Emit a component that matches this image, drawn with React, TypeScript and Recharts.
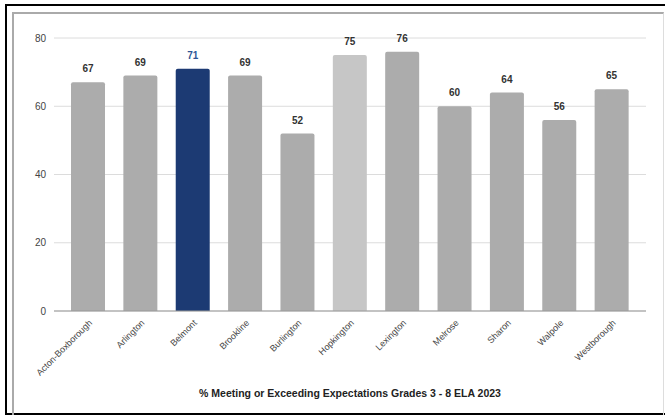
import { BarChart, Bar, XAxis, YAxis, CartesianGrid, Cell, LabelList } from 'recharts'

const districts = [
  'Acton-Boxborough',
  'Arlington',
  'Belmont',
  'Brookline',
  'Burlington',
  'Hopkington',
  'Lexington',
  'Melrose',
  'Sharon',
  'Walpole',
  'Westborough',
]
const pctMeeting = [67, 69, 71, 69, 52, 75, 76, 60, 64, 56, 65]
const yTicks = [0, 20, 40, 60, 80]
const title = '% Meeting or Exceeding Expectations Grades 3 - 8 ELA 2023'

const FONT = "Arial, 'Liberation Sans', sans-serif"

function barColor(name: string) {
  if (name === 'Belmont') return '#1c3a73'
  if (name === 'Hopkington') return '#c6c6c6'
  return '#acacac'
}

export default function App() {
  const data = districts.map((d, i) => ({ district: d, value: pctMeeting[i] }))

  const renderValue = (props: any) => {
    const { x, y, width, value, index } = props
    const isBelmont = districts[index] === 'Belmont'
    return (
      <text
        x={x + width / 2}
        y={y - 10}
        textAnchor="middle"
        fontSize={10}
        fontWeight="bold"
        fontFamily={FONT}
        fill={isBelmont ? '#2f5597' : '#333'}
      >
        {value}
      </text>
    )
  }

  return (
    <div style={{ position: 'absolute', left: 0, top: 0, width: 665, height: 415, background: '#fff', overflow: 'hidden' }}>
      <div
        style={{
          position: 'absolute',
          left: 5,
          top: 4,
          width: 670,
          height: 411,
          boxSizing: 'border-box',
          borderTop: '2px solid #000',
          borderLeft: '2px solid #000',
          borderBottom: '2px solid #000',
        }}
      />
      <div
        style={{
          position: 'absolute',
          left: 12,
          top: 12,
          width: 652,
          height: 420,
          boxSizing: 'border-box',
          borderTop: '2px solid #aaa',
          borderLeft: '2px solid #aaa',
          borderRight: '1px solid #ddd',
        }}
      />
      <div style={{ position: 'absolute', left: 0, top: 0 }}>
        <BarChart
          width={665}
          height={415}
          data={data}
          margin={{ top: 38, right: 19, bottom: 0, left: 24 }}
          barSize={34}
        >
          <CartesianGrid vertical={false} stroke="#dcdcdc" />
          <XAxis
            dataKey="district"
            interval={0}
            height={104}
            padding={{ left: 8, right: 8 }}
            tickLine={false}
            axisLine={{ stroke: '#999' }}
            angle={-45}
            textAnchor="end"
            tick={{ fontSize: 9, fill: '#444', fontFamily: FONT }}
            label={{
              value: title,
              position: 'insideBottom',
              offset: 18,
              fontSize: 10.5,
              fontWeight: 'bold',
              fill: '#222',
              fontFamily: FONT,
            }}
          />
          <YAxis
            width={30}
            domain={[0, 80]}
            ticks={yTicks}
            tickLine={false}
            axisLine={false}
            tick={{ fontSize: 10, fill: '#444', fontFamily: FONT }}
          />
          <Bar dataKey="value" radius={[2, 2, 0, 0]} isAnimationActive={false}>
            {data.map((d) => (
              <Cell key={d.district} fill={barColor(d.district)} />
            ))}
            <LabelList dataKey="value" content={renderValue} />
          </Bar>
        </BarChart>
      </div>
    </div>
  )
}
